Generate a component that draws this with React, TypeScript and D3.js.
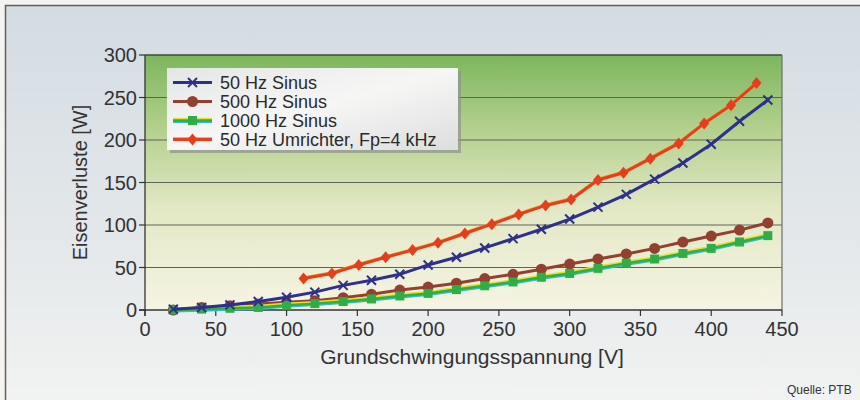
import React from "react";
import * as d3 from "d3";

// --- Daten ---
const voltSinus = [20, 40, 60, 80, 100, 120, 140, 160, 180, 200, 220, 240, 260, 280, 300, 320, 340, 360, 380, 400, 420, 440];
const loss50 = [1, 3, 6, 10, 15, 21, 29, 35, 42, 53, 62, 73, 84, 95, 107, 121, 136, 154, 173, 195, 222, 247];
const loss500 = [0, 3, 5, 7, 9, 11, 14.5, 18.5, 23.5, 27, 31.5, 37, 42, 48, 54, 60, 66, 72.5, 80, 87, 94, 102.5];
const loss1000 = [0, 1, 2, 3, 5.5, 7.5, 10, 13, 16.5, 19.5, 24, 28.5, 33, 38.5, 43, 49, 55, 60, 66.5, 72.5, 80, 87.5];
const voltUmr = [112, 132, 151, 170, 189, 207, 226, 245, 264, 283, 301, 320, 338, 357, 377, 395, 414, 432];
const lossUmr = [37, 43, 53, 62, 70.5, 79, 90, 101, 112.5, 123, 130, 153, 161.5, 178, 196, 219.5, 241, 267];

const xTicks = [0, 50, 100, 150, 200, 250, 300, 350, 400, 450];
const yTicks = [0, 50, 100, 150, 200, 250, 300];
const legendLabels = ["50 Hz Sinus", "500 Hz Sinus", "1000 Hz Sinus", "50 Hz Umrichter, Fp=4 kHz"];

const FONT = "'Liberation Sans', Arial, sans-serif";

const PLOT = { left: 145, right: 782, top: 55, bottom: 310 };

const COLORS = {
  blue: "#2f2f8c",
  brown: "#934030",
  green: "#2fae48",
  yellow: "#e6e22a",
  cyan: "#38b8c8",
  red: "#e63e1c",
};

type Kind = "blue" | "brown" | "green" | "red";

function Marker({ kind, x, y }: { kind: Kind; x: number; y: number }) {
  if (kind === "blue") {
    const s = 4.5;
    return (
      <g stroke={COLORS.blue} strokeWidth={2}>
        <line x1={x - s} y1={y - s} x2={x + s} y2={y + s} />
        <line x1={x - s} y1={y + s} x2={x + s} y2={y - s} />
      </g>
    );
  }
  if (kind === "brown") {
    return <circle cx={x} cy={y} r={5.5} fill={COLORS.brown} />;
  }
  if (kind === "green") {
    return <rect x={x - 4.5} y={y - 4.5} width={9} height={9} fill={COLORS.green} />;
  }
  return (
    <path
      d={`M${x},${y - 6}L${x + 5},${y}L${x},${y + 6}L${x - 5},${y}Z`}
      fill={COLORS.red}
    />
  );
}

export default function App() {
  const x = d3.scaleLinear().domain([0, 450]).range([PLOT.left, PLOT.right]);
  const y = d3.scaleLinear().domain([0, 300]).range([PLOT.bottom, PLOT.top]);

  const line = d3
    .line<[number, number]>()
    .x((d) => x(d[0]))
    .y((d) => y(d[1]));

  const pts = (vs: number[], ws: number[]) => vs.map((v, i) => [v, ws[i]] as [number, number]);

  const series: { kind: Kind; data: [number, number][] }[] = [
    { kind: "brown", data: pts(voltSinus, loss500) },
    { kind: "green", data: pts(voltSinus, loss1000) },
    { kind: "blue", data: pts(voltSinus, loss50) },
    { kind: "red", data: pts(voltUmr, lossUmr) },
  ];

  const renderLine = (kind: Kind, d: string) => {
    if (kind === "green") {
      return (
        <g fill="none">
          <path d={d} stroke={COLORS.yellow} strokeWidth={2.5} transform="translate(0,-1.5)" />
          <path d={d} stroke={COLORS.cyan} strokeWidth={2} transform="translate(0,1.5)" />
          <path d={d} stroke={COLORS.green} strokeWidth={2.5} />
        </g>
      );
    }
    if (kind === "red") {
      return (
        <g fill="none">
          <path d={d} stroke="#f2a020" strokeWidth={2} transform="translate(0,-1.2)" />
          <path d={d} stroke={COLORS.red} strokeWidth={3} />
        </g>
      );
    }
    return <path d={d} fill="none" stroke={COLORS[kind]} strokeWidth={3} />;
  };

  const legendKinds: Kind[] = ["blue", "brown", "green", "red"];
  const LEG = { x: 167, y: 68, w: 291, h: 82, row: 19 };

  return (
    <svg
      width={860}
      height={400}
      style={{ position: "absolute", left: 0, top: 0 }}
      xmlns="http://www.w3.org/2000/svg"
    >
      <defs>
        <linearGradient id="bg" x1="0" y1="0" x2="0" y2="1">
          <stop offset="0" stopColor="#d3dce3" />
          <stop offset="0.6" stopColor="#e4e8ea" />
          <stop offset="1" stopColor="#f2f3f2" />
        </linearGradient>
        <linearGradient id="plotbg" x1="0" y1="0" x2="0" y2="1">
          <stop offset="0" stopColor="#7db65e" />
          <stop offset="0.3" stopColor="#b5d18f" />
          <stop offset="0.6" stopColor="#e2e8c4" />
          <stop offset="1" stopColor="#f6f4e4" />
        </linearGradient>
        <linearGradient id="legbg" x1="0" y1="0" x2="1" y2="1">
          <stop offset="0" stopColor="#e4e6e6" />
          <stop offset="0.5" stopColor="#f6f6f5" />
          <stop offset="1" stopColor="#dcdedd" />
        </linearGradient>
      </defs>

      {/* Rahmen */}
      <rect x={0} y={0} width={860} height={400} fill="#f4f4f2" />
      <rect x={5.5} y={5.5} width={860} height={400} fill="url(#bg)" stroke="#6b5b52" strokeWidth={1.5} />

      {/* Plotfläche */}
      <rect
        x={PLOT.left}
        y={PLOT.top}
        width={PLOT.right - PLOT.left}
        height={PLOT.bottom - PLOT.top}
        fill="url(#plotbg)"
      />

      {/* Gitterlinien */}
      {yTicks.slice(1, -1).map((t) => (
        <line key={t} x1={PLOT.left} x2={PLOT.right} y1={y(t)} y2={y(t)} stroke="#5e625a" strokeWidth={1} />
      ))}
      <line x1={PLOT.left} x2={PLOT.right} y1={PLOT.top} y2={PLOT.top} stroke="#3d4a3a" strokeWidth={1.5} />
      <line x1={PLOT.right} x2={PLOT.right} y1={PLOT.top} y2={PLOT.bottom} stroke="#6d706a" strokeWidth={1.2} />

      {/* Achsen */}
      <line x1={PLOT.left} x2={PLOT.left} y1={PLOT.top} y2={PLOT.bottom + 6} stroke="#333" strokeWidth={1.3} />
      <line x1={PLOT.left - 6} x2={PLOT.right} y1={PLOT.bottom} y2={PLOT.bottom} stroke="#333" strokeWidth={1.3} />
      {yTicks.map((t) => (
        <g key={t}>
          <line x1={PLOT.left - 6} x2={PLOT.left} y1={y(t)} y2={y(t)} stroke="#333" strokeWidth={1.2} />
          <text
            x={PLOT.left - 8}
            y={y(t)}
            textAnchor="end"
            dominantBaseline="central"
            fontFamily={FONT}
            fontSize={20}
            fill="#333"
          >
            {t}
          </text>
        </g>
      ))}
      {xTicks.map((t) => (
        <g key={t}>
          <line x1={x(t)} x2={x(t)} y1={PLOT.bottom} y2={PLOT.bottom + 6} stroke="#333" strokeWidth={1.2} />
          <text
            x={x(t)}
            y={329}
            textAnchor="middle"
            dominantBaseline="central"
            fontFamily={FONT}
            fontSize={20}
            fill="#333"
          >
            {t}
          </text>
        </g>
      ))}
      <text
        transform={`translate(80,${(PLOT.top + PLOT.bottom) / 2}) rotate(-90)`}
        textAnchor="middle"
        dominantBaseline="central"
        fontFamily={FONT}
        fontSize={20}
        fill="#333"
      >
        Eisenverluste [W]
      </text>
      <text
        x={472}
        y={356}
        textAnchor="middle"
        dominantBaseline="central"
        fontFamily={FONT}
        fontSize={21}
        fill="#333"
      >
        Grundschwingungsspannung [V]
      </text>

      {/* Datenreihen */}
      {series.map((s) => (
        <g key={s.kind}>
          {renderLine(s.kind, line(s.data) ?? "")}
          {s.data.map((d, i) => (
            <Marker key={i} kind={s.kind} x={x(d[0])} y={y(d[1])} />
          ))}
        </g>
      ))}

      {/* Legende */}
      <rect x={LEG.x + 3} y={LEG.y + 3} width={LEG.w} height={LEG.h} fill="#8e918f" opacity={0.7} />
      <rect x={LEG.x} y={LEG.y} width={LEG.w} height={LEG.h} fill="url(#legbg)" />
      {legendKinds.map((k, i) => {
        const cy = LEG.y + 14.5 + i * LEG.row;
        const d = `M173,${cy}L212,${cy}`;
        return (
          <g key={k}>
            {renderLine(k, d)}
            <Marker kind={k} x={192.5} y={cy} />
            <text
              x={220}
              y={cy}
              dominantBaseline="central"
              fontFamily={FONT}
              fontSize={18}
              fill="#2a2a2a"
            >
              {legendLabels[i]}
            </text>
          </g>
        );
      })}

      <text x={787} y={394} fontFamily={FONT} fontSize={12} fill="#333">
        Quelle: PTB
      </text>
    </svg>
  );
}
